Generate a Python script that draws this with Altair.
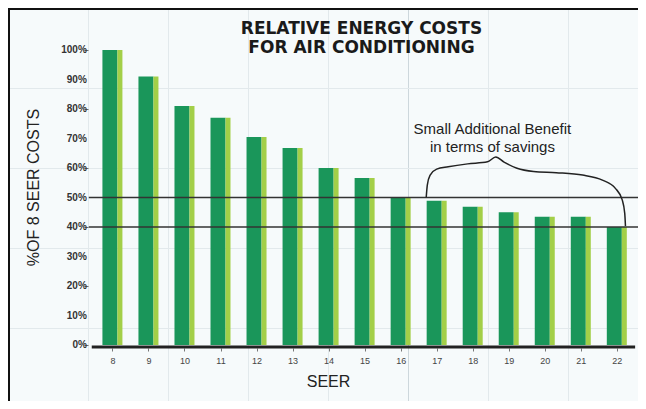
import altair as alt
import pandas as pd

# ---- data ----
seer = [8, 9, 10, 11, 12, 13, 14, 15, 16, 17, 18, 19, 20, 21, 22]
pct_cost = [100, 91, 81, 77, 70.5, 66.8, 60, 56.6, 50, 48.9, 46.9, 45, 43.5, 43.5, 40]
y_ticks = [0, 10, 20, 30, 40, 50, 60, 70, 80, 90, 100]
y_tick_labels = ["0%", "10%", "20%", "30%", "40%", "50%", "60%", "70%", "80%", "90%", "100%"]
ref_levels = [50, 40]
brace_seer = [16.71, 16.74, 16.82, 17.0, 17.32, 17.86, 18.41, 18.64, 18.87, 19.23,
              19.69, 20.32, 21.05, 21.6, 21.96, 22.15, 22.22, 22.24]
brace_pct = [50.1, 54.2, 57.6, 59.6, 60.4, 61.4, 62.1, 63.7, 62.0, 59.9,
             58.8, 58.4, 57.6, 55.9, 53.1, 49.2, 44.6, 40.3]
title_lines = ["RELATIVE ENERGY COSTS", "FOR AIR CONDITIONING"]
note_lines = ["Small Additional Benefit", "in terms of savings"]

# ---- layout ----
W, H = 640, 400
X0_PX, STEP = 101, 36.6        # view px of SEER 8, px per SEER step
Y0_PX, PX_PER_PCT = 337, 2.95  # view px of 0 %, px per percent


def x_at(px):
    return 8 + (px - X0_PX) / STEP


def y_at(px):
    return (Y0_PX - px) / PX_PER_PCT


x_scale = alt.Scale(domain=[x_at(0), x_at(W)], nice=False, zero=False)
y_scale = alt.Scale(domain=[y_at(H), y_at(0)], nice=False, zero=False)

bars_df = pd.DataFrame({"SEER": seer, "pct": pct_cost})

x_axis = alt.Axis(values=seer, orient="bottom", offset=-(H - 340), grid=False, domain=False,
                  tickSize=3, tickColor="#777", labelFont="Liberation Sans", labelFontSize=9,
                  labelColor="#444", labelPadding=5, labelOverlap=False, title="SEER",
                  titleFont="Liberation Sans", titleFontSize=16, titleFontWeight="normal",
                  titleColor="#222", titlePadding=8)
# y tick labels are drawn by the text layer below; the axis gives ticks and title
y_axis = alt.Axis(values=y_ticks, orient="left", offset=-80, grid=False, domain=False,
                  tickSize=4, tickColor="#666", labels=False,
                  title="%OF 8 SEER COSTS", titleFont="Liberation Sans", titleFontSize=16,
                  titleFontWeight="normal", titleColor="#222", titleX=-47, titleY=179)

x_enc = alt.X("SEER:Q", scale=x_scale, axis=x_axis)
y_enc = alt.Y("pct:Q", scale=y_scale, axis=y_axis)

face = alt.Chart(bars_df).mark_bar(size=15, xOffset=-2.5, color="#1a965a").encode(
    x=x_enc, y=y_enc, y2=alt.datum(0))
side = alt.Chart(bars_df).mark_bar(size=5, xOffset=7.5, color="#a3cf48").encode(
    x=x_enc, y=y_enc, y2=alt.datum(0))

ylab = alt.Chart(pd.DataFrame({"pct": y_ticks, "lab": y_tick_labels})).mark_text(
    font="Liberation Sans", fontSize=10, fontWeight="bold", color="#333",
    align="right", baseline="middle").encode(
    y=y_enc, x=alt.datum(x_at(75)), text="lab:N")

baseline = alt.Chart(pd.DataFrame({"pct": [0]})).mark_rule(
    color="#222", strokeWidth=3, yOffset=2).encode(
    y=y_enc, x=alt.datum(x_at(80)), x2=alt.datum(x_at(W - 8)))

refs = alt.Chart(pd.DataFrame({"pct": ref_levels})).mark_rule(
    color="#333", strokeWidth=1.3).encode(
    y=y_enc, x=alt.datum(x_at(77)), x2=alt.datum(x_at(W)))

brace = alt.Chart(pd.DataFrame({"SEER": brace_seer, "pct": brace_pct})).mark_line(
    color="#222", strokeWidth=1.5, interpolate="monotone").encode(x=x_enc, y=y_enc)

one = pd.DataFrame({"k": [0]})
note = alt.Chart(one).mark_text(
    text=note_lines, font="Liberation Sans", fontSize=15, color="#222",
    lineHeight=18.4, align="center", baseline="middle").encode(
    x=alt.datum(x_at(487)), y=alt.datum(y_at(120.5)))

title = alt.Chart(one).mark_text(
    text=title_lines, font="DejaVu Sans", fontSize=17, fontWeight="bold", color="#1a1a1a",
    lineHeight=19, align="center", baseline="middle").encode(
    x=alt.datum(x_at(354)), y=alt.datum(y_at(20.5)))

main = alt.layer(face, side, ylab, refs, baseline, brace, note, title)

# graph-paper background drawn by grid-only axes, plus the frame's top and left edges
grid_color = alt.condition("datum.value % 50 === 0", alt.value("#cdd7dc"), alt.value("#e2e9ec"))
gx_scale = alt.Scale(domain=[0, W], nice=False)
gy_scale = alt.Scale(domain=[0, H], nice=False, reverse=True)
grid = alt.Chart(pd.DataFrame({"gx": [0, W], "gy": [0, H]})).mark_point(opacity=0).encode(
    x=alt.X("gx:Q", scale=gx_scale,
            axis=alt.Axis(orient="top", values=list(range(0, W + 1, 10)), grid=True,
                          gridColor=grid_color, labels=False, ticks=False, domain=False,
                          title=None)),
    y=alt.Y("gy:Q", scale=gy_scale,
            axis=alt.Axis(orient="right", values=list(range(0, H + 1, 10)), grid=True,
                          gridColor=grid_color, labels=False, ticks=False, domain=False,
                          title=None)),
)
frame_top = alt.Chart(pd.DataFrame({"gy": [0]})).mark_rule(color="#111", strokeWidth=4).encode(
    y=alt.Y("gy:Q", scale=gy_scale), x=alt.datum(0), x2=alt.datum(W - 4))
frame_left = alt.Chart(pd.DataFrame({"gx": [0]})).mark_rule(color="#111", strokeWidth=4).encode(
    x=alt.X("gx:Q", scale=gx_scale), y=alt.datum(0), y2=alt.datum(H))
paper = alt.layer(grid, frame_top, frame_left)

chart = alt.layer(paper, main).resolve_scale(x="independent", y="independent").properties(
    width=W, height=H,
    padding={"left": 0, "top": 0, "right": -10, "bottom": -7},
    autosize=alt.AutoSizeParams(type="none"),
    background="#f6fafb",
).configure_view(strokeWidth=0)

chart.save("out.html", embed_options={"renderer": "svg", "actions": False})
